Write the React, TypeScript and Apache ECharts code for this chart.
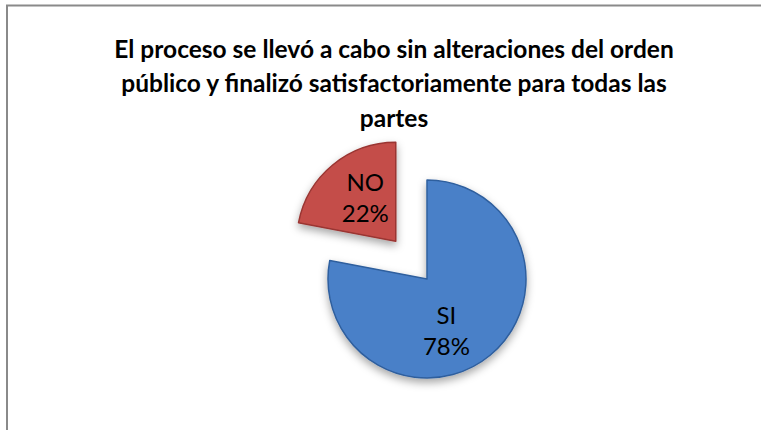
import React, { useEffect, useRef } from "react";
import * as echarts from "echarts";

const titleLines = [
  "El proceso se llevó a cabo sin alteraciones del orden",
  "público y finalizó satisfactoriamente para todas las",
  "partes",
];
const categories = ["SI", "NO"];
const values = [78, 22];
const sliceColors = ["#4A80C8", "#C44E4A"];
const sliceEdges = ["#2F5F9E", "#9A3532"];

export default function App() {
  const ref = useRef<HTMLDivElement>(null);
  useEffect(() => {
    document.body.style.margin = "0";
    const chart = echarts.init(ref.current!, null, { renderer: "svg" });
    chart.setOption({
      animation: false,
      backgroundColor: "#ffffff",
      title: {
        text: titleLines.join("\n"),
        left: 389,
        textAlign: "center",
        top: 26,
        textStyle: {
          fontFamily: "Lato",
          fontWeight: "bold",
          fontSize: 24.5,
          lineHeight: 34.5,
          color: "#000000",
        },
      },
      graphic: [
        {
          type: "polyline",
          shape: { points: [[7, 430], [7, 5.5], [761, 5.5]] },
          style: { stroke: "#8a8a8a", lineWidth: 2, fill: "none" },
          silent: true,
        },
      ],
      series: [
        {
          type: "pie",
          center: [427, 279],
          radius: 99,
          startAngle: 90,
          clockwise: true,
          selectedMode: "multiple",
          selectedOffset: 49,
          data: categories.map((name, i) => ({
            name,
            value: values[i],
            selected: i === 1,
            itemStyle: {
              color: sliceColors[i],
              borderColor: sliceEdges[i],
              borderWidth: 1.5,
              shadowBlur: 8,
              shadowColor: "rgba(0,0,0,0.35)",
              shadowOffsetY: 4,
            },
          })),
          label: {
            show: true,
            position: "inside",
            formatter: "{b}\n{d}%",
            fontFamily: "Lato",
            fontSize: 24,
            lineHeight: 31,
            color: "#000000",
          },
          labelLine: { show: false },
          labelLayout: (params: any) =>
            params.dataIndex === 0 ? { dx: -14, dy: 11 } : { dx: 3, dy: -4 },
          emphasis: { disabled: true },
        },
      ],
    });
    return () => chart.dispose();
  }, []);
  return <div ref={ref} style={{ width: 761, height: 430 }} />;
}
